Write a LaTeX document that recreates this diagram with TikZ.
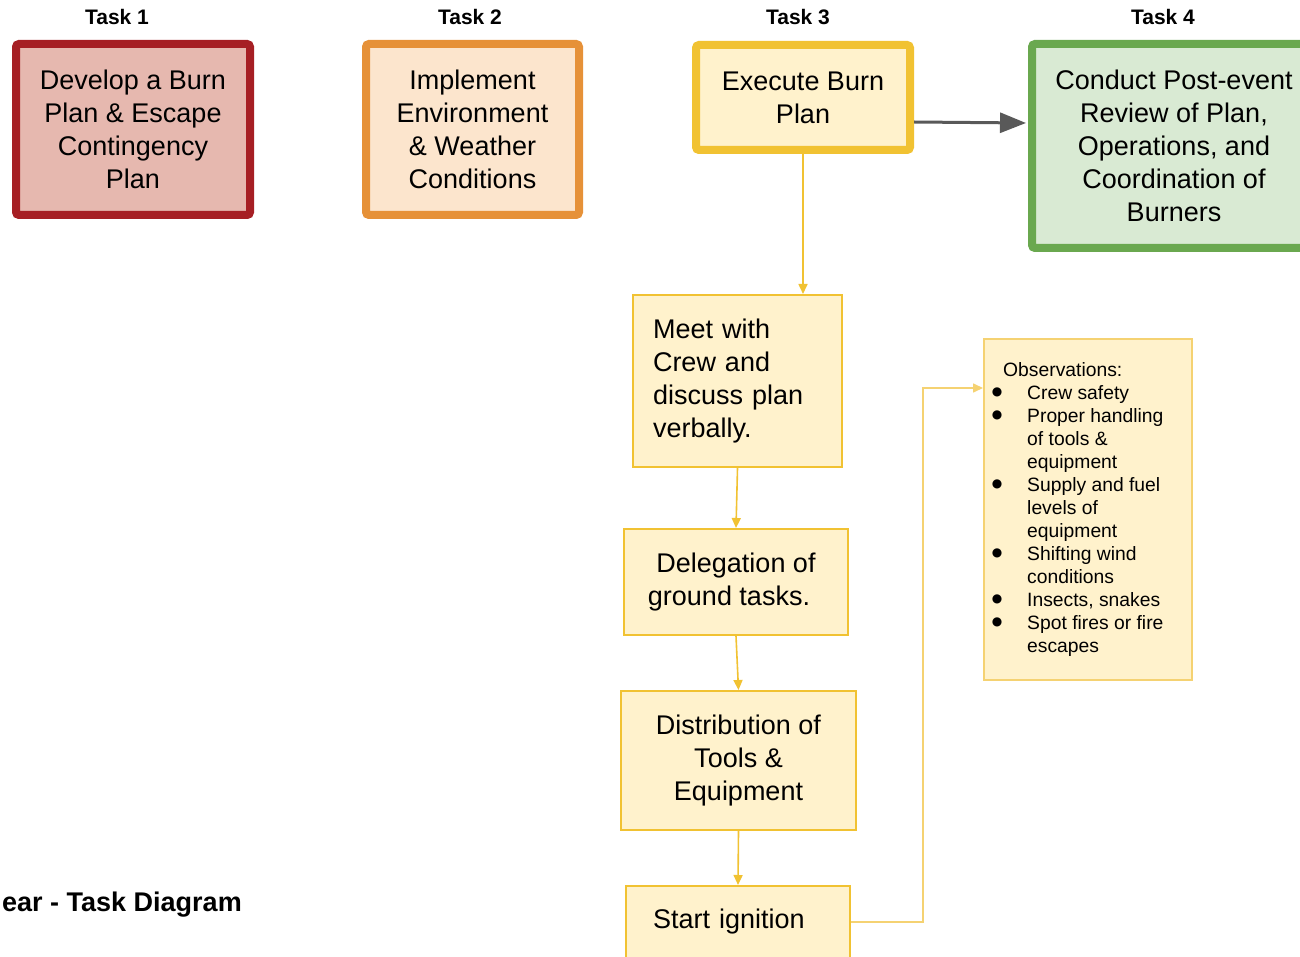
\documentclass[tikz,border=0pt]{standalone}
\usepackage{fontspec}
\setmainfont{Liberation Sans}
\newfontfamily\dejavu{DejaVu Sans}
\usetikzlibrary{arrows.meta}
\definecolor{redline}{HTML}{A61F24}
\definecolor{redfill}{HTML}{E6B8AF}
\definecolor{orline}{HTML}{E69138}
\definecolor{orfill}{HTML}{FCE5CD}
\definecolor{yline}{HTML}{F1C232}
\definecolor{yfill}{HTML}{FFF2CC}
\definecolor{ylight}{HTML}{F5D272}
\definecolor{gline}{HTML}{6AA84F}
\definecolor{gfill}{HTML}{D9EAD3}
\definecolor{arrgray}{HTML}{595959}
\begin{document}
\begin{tikzpicture}[x=1pt,y=-1pt,
  bigfont/.style={font=\fontsize{27}{33}\selectfont},
  taskbox/.style={bigfont, line width=8pt, rounded corners=3pt, align=center, inner sep=0pt},
  tasklabel/.style={font=\fontsize{21}{25}\selectfont\bfseries, anchor=base, inner sep=0pt},
  stepbox/.style={bigfont, draw=yline, fill=yfill, line width=2pt, inner sep=0pt},
  yarrow/.style={draw=yline, line width=1.6pt, -{Triangle[length=10pt,width=9pt]}},
  obsfont/.style={font=\fontsize{19.3}{23}\selectfont, inner sep=0pt, anchor=base west},
  bulletfont/.style={font=\dejavu\fontsize{12}{14}\selectfont, inner sep=0pt}
]
\useasboundingbox (0,0) rectangle (1300,957);
\clip (0,0) rectangle (1300,957);

% task labels
\node[tasklabel] (l1) at (117,25) {Task 1};
\node[tasklabel] (l2) at (470,25) {Task 2};
\node[tasklabel] (l3) at (798,25) {Task 3};
\node[tasklabel] (l4) at (1163,25) {Task 4};

% top task boxes
\node[taskbox, draw=redline, fill=redfill, minimum width=234pt, minimum height=171pt] (t1) at (133,129.5)
  {Develop a Burn\\Plan \& Escape\\Contingency\\Plan};
\node[taskbox, draw=orline, fill=orfill, minimum width=213pt, minimum height=171pt] (t2) at (472.5,129.5)
  {Implement\\Environment\\\& Weather\\Conditions};
\node[taskbox, draw=yline, fill=yfill, minimum width=214pt, minimum height=105pt] (t3) at (803,97.5)
  {Execute Burn\\Plan};
\node[taskbox, draw=gline, fill=gfill, minimum width=284pt, minimum height=204pt] (t4) at (1174,146)
  {Conduct Post-event\\Review of Plan,\\Operations, and\\Coordination of\\Burners};

% sub steps
\node[stepbox, minimum width=209pt, minimum height=172pt, text width=169pt, align=left] (meet) at (737.5,381)
  {Meet with\\Crew and\\discuss plan\\verbally.};
\node[stepbox, minimum width=224pt, minimum height=106pt, align=center] (deleg) at (736,582)
  {Delegation of\\ground tasks.\hspace*{14pt}};
\node[stepbox, minimum width=235pt, minimum height=139pt, align=center] (distr) at (738.5,760.5)
  {Distribution of\\Tools \&\\Equipment};
\node[stepbox, minimum width=224pt, minimum height=72pt, text width=170pt, align=left] (start) at (738,922)
  {Start ignition};

% observations box
\node[draw=ylight, fill=yfill, line width=2pt, minimum width=208pt, minimum height=341pt, inner sep=0pt] (obs) at (1088,509.5) {};
\node[obsfont] (obs0) at (1003,376) {Observations:};
\foreach \i/\b/\t in {1/1/Crew safety, 2/1/Proper handling, 3/0/of tools \&, 4/0/equipment,
  5/1/Supply and fuel, 6/0/levels of, 7/0/equipment, 8/1/Shifting wind, 9/0/conditions,
  10/1/{Insects, snakes}, 11/1/Spot fires or fire, 12/0/escapes}{
  \node[obsfont] (obsl\i) at (1027,{376+23*\i}) {\t};
  \ifnum\b=1
    \node[bulletfont] (obsb\i) at (997,{369+23*\i}) {●};
  \fi
}

% title
\node[font=\fontsize{27}{32}\selectfont\bfseries, anchor=base east, inner sep=0pt] (title) at (242,911) {ear - Task Diagram};

% connectors
\draw[draw=arrgray, line width=3pt, -{Triangle[length=26pt,width=20pt]}]
  ([yshift=-24.5pt]t3.east) -- ([yshift=23pt,xshift=-2pt]t4.west);
\draw[yarrow] (t3.south) -- (t3.south |- meet.north);
\draw[yarrow] (meet.south) -- (deleg.north);
\draw[yarrow] (deleg.south) -- (distr.north);
\draw[yarrow] (distr.south) -- (start.north);
\coordinate (bend) at (923,388);
\draw[draw=ylight, line width=1.6pt, -{Triangle[length=10pt,width=9pt]}]
  (start.east) -| (bend) -- (bend -| obs.west);
\end{tikzpicture}
\end{document}
